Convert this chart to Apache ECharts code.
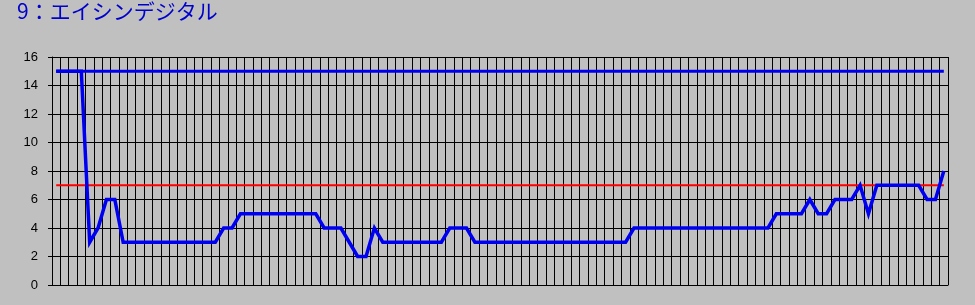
<!DOCTYPE html>
<html>
<head>
<meta charset="utf-8">
<script src="https://cdn.jsdelivr.net/npm/echarts@6/dist/echarts.min.js"></script>
<style>
html,body{margin:0;padding:0;background:#c0c0c0;}
#c{width:975px;height:305px;}
</style>
</head>
<body>
<div id="c"></div>
<script>
const titleText = '9：エイシンデジタル';
const categories = Array.from({length: 107}, (_, i) => String(i + 1));
const values = [
  15, 15, 15, 15, 3, 4, 6, 6,
  3, 3, 3, 3, 3, 3, 3, 3, 3, 3, 3, 3,
  4, 4,
  5, 5, 5, 5, 5, 5, 5, 5, 5, 5,
  4, 4, 4, 3, 2, 2, 4,
  3, 3, 3, 3, 3, 3, 3, 3,
  4, 4, 4,
  3, 3, 3, 3, 3, 3, 3, 3, 3, 3, 3, 3, 3, 3, 3, 3, 3, 3, 3,
  4, 4, 4, 4, 4, 4, 4, 4, 4, 4, 4, 4, 4, 4, 4, 4, 4,
  5, 5, 5, 5, 6, 5, 5, 6, 6, 6, 7, 5,
  7, 7, 7, 7, 7, 7, 6, 6, 8
];
const upperLevel = 15;
const lowerLevel = 7;
const yTicks = [0, 2, 4, 6, 8, 10, 12, 14, 16];

const chart = echarts.init(document.getElementById('c'), null, {renderer: 'canvas'});
const first = categories[0], last = categories[categories.length - 1];
chart.setOption({
  animation: false,
  backgroundColor: '#c0c0c0',
  title: {
    text: titleText, left: 12, top: -4,
    textStyle: {color: '#0000cc', fontSize: 21, fontWeight: 'normal', fontFamily: '"Noto Sans CJK JP", sans-serif'}
  },
  grid: {left: 52, right: 27, top: 57, bottom: 20, containLabel: false},
  xAxis: {
    type: 'category', data: categories, boundaryGap: true,
    axisLabel: {show: false}, axisTick: {show: false},
    axisLine: {show: true, lineStyle: {color: '#000', width: 1}},
    splitLine: {show: true, interval: 0, lineStyle: {color: '#000', width: 1}}
  },
  yAxis: {
    type: 'value', min: yTicks[0], max: yTicks[yTicks.length - 1], interval: 2,
    axisLabel: {color: '#000', fontSize: 13, margin: 14, fontFamily: '"Liberation Sans", Arial, sans-serif'},
    axisTick: {show: true, length: 4, lineStyle: {color: '#000'}},
    axisLine: {show: true, lineStyle: {color: '#000'}},
    splitLine: {show: true, lineStyle: {color: '#000', width: 1}}
  },
  series: [
    {type: 'line', data: [[first, upperLevel], [last, upperLevel]], symbol: 'none', z: 2,
     lineStyle: {color: '#0000f0', width: 3}},
    {type: 'line', data: [[first, lowerLevel], [last, lowerLevel]], symbol: 'none', z: 2,
     lineStyle: {color: '#ff0000', width: 2}},
    {type: 'line', data: values, symbol: 'none', z: 3,
     lineStyle: {color: '#0000f0', width: 3.5, join: 'miter'}}
  ]
});
</script>
</body>
</html>
